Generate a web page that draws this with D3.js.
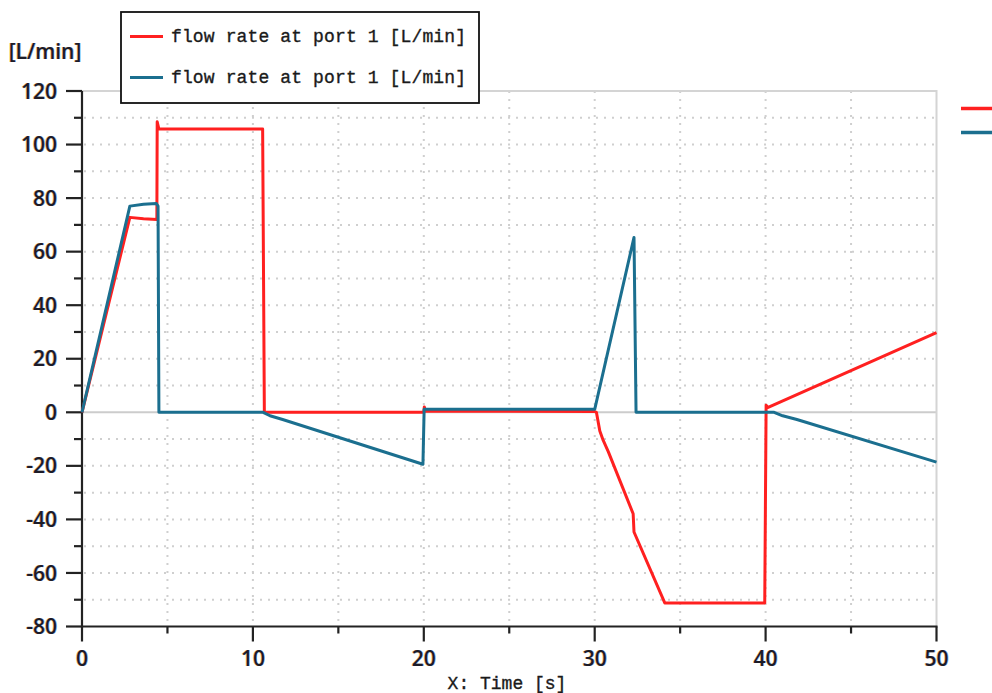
<!DOCTYPE html>
<html>
<head>
<meta charset="utf-8">
<script src="https://cdn.jsdelivr.net/npm/d3@7"></script>
<style>
  html, body { margin: 0; padding: 0; background: #fff; }
  svg { display: block; }
  .tl { font-family: "Open Sans", "Liberation Sans", sans-serif; font-weight: 600; font-size: 21px; fill: #1c1c28;
        text-shadow: -0.7px 0 rgba(230,140,20,0.55), 0.7px 0 rgba(20,90,200,0.45); }
  .mono { font-family: "Liberation Mono", "DejaVu Sans Mono", monospace; font-size: 18px; fill: #1a1a1a;
          stroke: #1a1a1a; stroke-width: 0.35px; }
</style>
</head>
<body>
<svg id="chart" width="992" height="693"></svg>
<script>
// ---- data ----
const redTime  = [0, 2.8, 3.6, 4.38, 4.4, 4.5, 10.57, 10.67, 20, 20.03, 20.1, 30, 30.1, 30.3, 30.5, 30.8, 32.25, 32.3, 34.1, 39.95, 40.03, 40.15, 50];
const redFlow  = [0, 72.8, 72.3, 72, 108.5, 105.8, 105.8, 0, 0, 2, 0.4, 0.3, 0, -7, -10.5, -14.8, -37.9, -44.7, -71.2, -71.2, 2.6, 1.8, 29.8];
const blueTime = [0, 2.8, 3.6, 4.35, 4.45, 4.5, 10.6, 11.0, 11.74, 19.95, 20.02, 30, 32.3, 32.42, 40.5, 41.0, 41.83, 50];
const blueFlow = [0, 77, 77.7, 78, 77, 0, 0, -1.3, -2.7, -19.4, 1.1, 1.1, 65.3, 0, 0, -1.3, -2.7, -18.6];
const seriesNames = ["flow rate at port 1 [L/min]", "flow rate at port 1 [L/min]"];
const seriesColors = ["#ff2020", "#1b6f8f"];
const yTicks = [-80, -60, -40, -20, 0, 20, 40, 60, 80, 100, 120];
const xTicks = [0, 10, 20, 30, 40, 50];
const yUnit = "[L/min]";
const xTitle = "X: Time [s]";

// ---- layout ----
const svg = d3.select("#chart");
const L = 82, R = 936.5, T = 91, B = 626.5;
const x = d3.scaleLinear().domain([0, 50]).range([L, R]);
const y = d3.scaleLinear().domain([-80, 120]).range([B, T]);

// grid: horizontal dotted every 10, vertical dotted every 5
const g = svg.append("g");
g.selectAll("line.hg").data(d3.range(-70, 120, 10).filter(v => v !== 0)).join("line")
  .attr("x1", L + 2).attr("x2", R).attr("y1", d => y(d)).attr("y2", d => y(d))
  .attr("stroke", "#cfcfcf").attr("stroke-width", 2).attr("stroke-dasharray", "2,6");
g.selectAll("line.vg").data(d3.range(5, 50, 5)).join("line")
  .attr("x1", d => x(d)).attr("x2", d => x(d)).attr("y1", T).attr("y2", B)
  .attr("stroke", "#cfcfcf").attr("stroke-width", 2).attr("stroke-dasharray", "2,6");
// zero line
g.append("line").attr("x1", L).attr("x2", R).attr("y1", y(0)).attr("y2", y(0))
  .attr("stroke", "#cccccc").attr("stroke-width", 2);
// frame top and right
g.append("path").attr("d", `M${L},${T}H${R}V${B}`).attr("fill", "none")
  .attr("stroke", "#d4d4d4").attr("stroke-width", 2);

// axes
const ax = svg.append("g").attr("stroke", "#222").attr("stroke-width", 2.2);
ax.append("line").attr("x1", L).attr("x2", L).attr("y1", T).attr("y2", B + 1);
ax.append("line").attr("x1", L - 1).attr("x2", R + 1).attr("y1", B).attr("y2", B);
// y ticks: major 20 long, minor 10 short
ax.selectAll("line.ymaj").data(yTicks).join("line")
  .attr("x1", L - 16).attr("x2", L).attr("y1", d => y(d)).attr("y2", d => y(d));
ax.selectAll("line.ymin").data(d3.range(-70, 120, 20)).join("line")
  .attr("x1", L - 8).attr("x2", L).attr("y1", d => y(d)).attr("y2", d => y(d));
ax.selectAll("line.xmaj").data(xTicks).join("line")
  .attr("x1", d => x(d)).attr("x2", d => x(d)).attr("y1", B).attr("y2", B + 15);
ax.selectAll("line.xmin").data(d3.range(5, 50, 10)).join("line")
  .attr("x1", d => x(d)).attr("x2", d => x(d)).attr("y1", B).attr("y2", B + 7);

// tick labels
svg.selectAll("text.yl").data(yTicks).join("text").attr("class", "tl")
  .attr("x", L - 25).attr("y", d => y(d)).attr("dy", "0.36em").attr("text-anchor", "end")
  .text(d => d);
svg.selectAll("text.xl").data(xTicks).join("text").attr("class", "tl")
  .attr("x", d => x(d)).attr("y", 658).attr("dy", "0.36em").attr("text-anchor", "middle")
  .text(d => d);
svg.append("text").attr("class", "tl").attr("x", 45).attr("y", 51).attr("dy", "0.36em")
  .attr("text-anchor", "middle").text(yUnit);
svg.append("text").attr("class", "mono").attr("x", 507).attr("y", 683).attr("dy", "0.35em")
  .attr("text-anchor", "middle").text(xTitle);

// lines
const line = d3.line().x(d => x(d[0])).y(d => y(d[1]));
const redData = redTime.map((t, i) => [t, redFlow[i]]);
const blueData = blueTime.map((t, i) => [t, blueFlow[i]]);
svg.append("path").datum(redData).attr("d", line).attr("fill", "none")
  .attr("stroke", seriesColors[0]).attr("stroke-width", 3).attr("stroke-linejoin", "round");
svg.append("path").datum(blueData).attr("d", line).attr("fill", "none")
  .attr("stroke", seriesColors[1]).attr("stroke-width", 3).attr("stroke-linejoin", "round");

// legend box
const lg = svg.append("g");
lg.append("rect").attr("x", 121).attr("y", 12).attr("width", 358).attr("height", 91)
  .attr("fill", "#fff").attr("stroke", "#111").attr("stroke-width", 1.8);
const ly = [36.5, 77.5];
seriesNames.forEach((n, i) => {
  lg.append("line").attr("x1", 130).attr("x2", 163).attr("y1", ly[i]).attr("y2", ly[i])
    .attr("stroke", seriesColors[i]).attr("stroke-width", 3);
  lg.append("text").attr("class", "mono").attr("x", 171).attr("y", ly[i]).attr("dy", "0.33em")
    .attr("textLength", 295).attr("lengthAdjust", "spacing").text(n);
});
// cut-off legend fragments at right edge
[108.5, 132.5].forEach((yy, i) => {
  svg.append("line").attr("x1", 961).attr("x2", 992).attr("y1", yy).attr("y2", yy)
    .attr("stroke", seriesColors[i]).attr("stroke-width", 3.5);
});
</script>
</body>
</html>
